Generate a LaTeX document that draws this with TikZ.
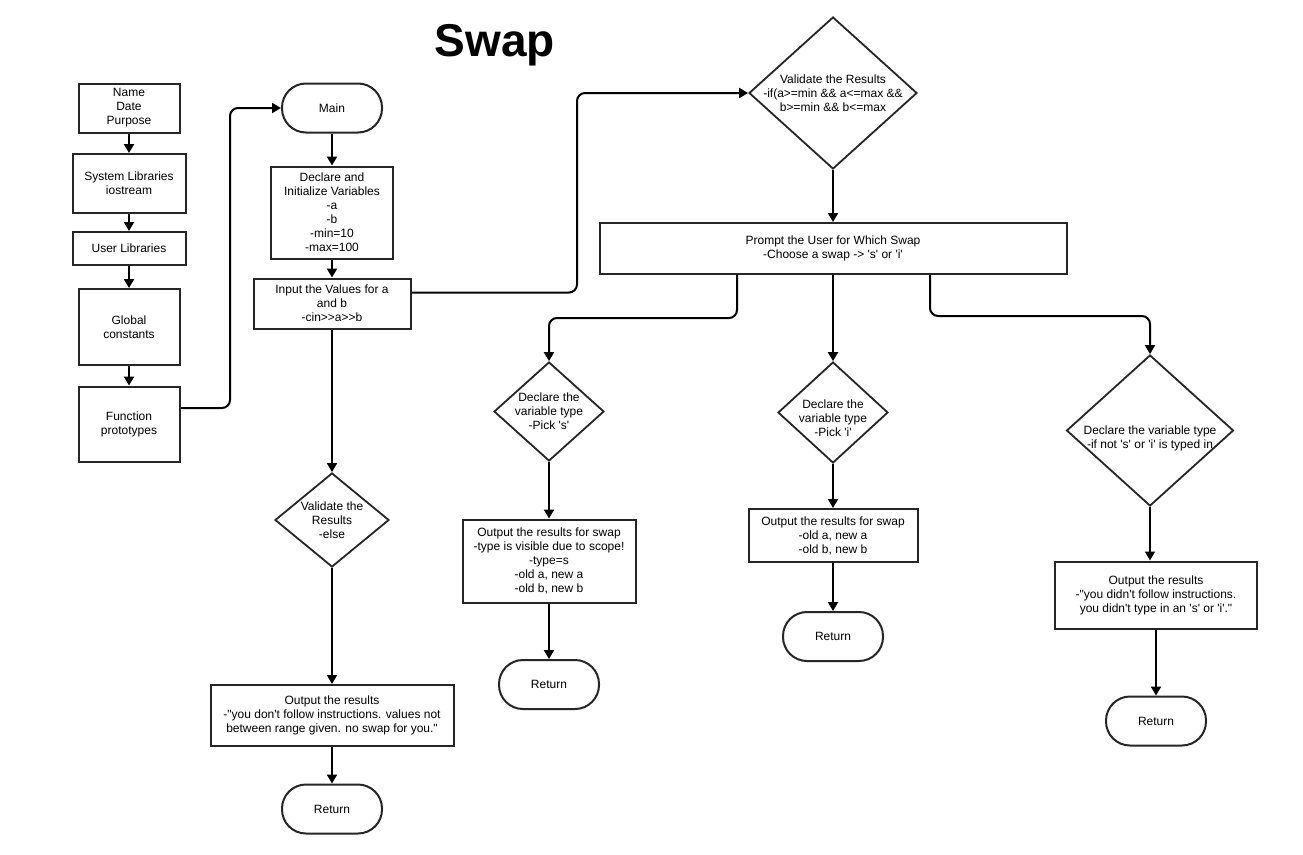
\documentclass[tikz,border=0pt]{standalone}
\usepackage{fontspec}
\setmainfont{Liberation Sans}[Ligatures=TeXOff]
\usetikzlibrary{shapes.geometric,arrows.meta}
\begin{document}
\begin{tikzpicture}[x=1pt,y=-1pt,font=\fontsize{12}{14}\selectfont,
  box/.style={draw=black!85,line width=2pt,rectangle,inner sep=0pt,align=center},
  term/.style={box,rounded corners=24pt,minimum width=100pt,minimum height=49pt},
  dia/.style={draw=black!85,line width=1.8pt,diamond,inner sep=0pt},
  txt/.style={align=center,inner sep=0pt},
  conn/.style={line width=2pt,-{Triangle[length=9pt,width=10pt]},rounded corners=8pt}]
\useasboundingbox (0,0) rectangle (1303,854);
\fill[white] (0,0) rectangle (1303,854);

\node[txt,font=\fontsize{46}{50}\selectfont\bfseries] (title) at (495,45) {Swap};

% left column
\node[box,minimum width=101pt,minimum height=49pt] (name) at (129,108) {Name\\Date\\Purpose};
\node[box,minimum width=113pt,minimum height=59pt] (sys) at (129,183.5) {System Libraries\\iostream};
\node[box,minimum width=113pt,minimum height=33pt] (user) at (129,248.5) {User Libraries};
\node[box,minimum width=101pt,minimum height=76pt] (glob) at (129,327) {Global\\constants};
\node[box,minimum width=101pt,minimum height=75pt] (func) at (129,424) {Function\\prototypes};

% main column
\node[term] (main) at (332,108) {Main};
\node[box,minimum width=122pt,minimum height=92pt] (decl) at (332,212.5) {Declare and\\Initialize Variables\\-a\\-b\\-min=10\\-max=100};
\node[box,minimum width=157pt,minimum height=50pt] (inp) at (332,303.5) {Input the Values for a\\and b\\-cin>>a>>b};
\node[dia,minimum width=114pt,minimum height=94pt,label={[txt]center:{Validate the\\Results\\-else}}] (velse) at (332,520) {};
\node[box,minimum width=243pt,minimum height=61pt] (oelse) at (332,715.5) {Output the results\\-"you don't follow instructions. values not\\between range given. no swap for you."};
\node[term] (relse) at (332,809) {Return};

% right part
\node[dia,minimum width=168pt,minimum height=152pt,label={[txt]center:{Validate the Results\\-if(a>=min \&\& a<=max \&\&\\b>=min \&\& b<=max}}] (top) at (833,93) {};
\node[box,minimum width=467pt,minimum height=51pt] (prompt) at (833,248.5) {Prompt the User for Which Swap\\-Choose a swap -> 's' or 'i'};

\node[dia,minimum width=110pt,minimum height=99pt,label={[txt]center:{Declare the\\variable type\\-Pick 's'}}] (ds) at (549,411.5) {};
\node[dia,minimum width=110pt,minimum height=101pt,label={[txt,yshift=-6pt]center:{Declare the\\variable type\\-Pick 'i'}}] (di) at (833,412.5) {};
\node[dia,minimum width=167pt,minimum height=151pt,label={[txt,yshift=-8pt]center:{Declare the variable type\\-if not 's' or 'i' is typed in}}] (dr) at (1150,430.5) {};

\node[box,minimum width=173pt,minimum height=83pt] (os) at (549,561) {Output the results for swap\\-type is visible due to scope!\\-type=s\\-old a, new a\\-old b, new b};
\node[term] (rs) at (549,684.5) {Return};
\node[box,minimum width=169pt,minimum height=53pt] (oi) at (833,535.5) {Output the results for swap\\-old a, new a\\-old b, new b};
\node[term] (ri) at (833,636.5) {Return};
\node[box,minimum width=202pt,minimum height=67pt] (orr) at (1156,595) {Output the results\\-"you didn't follow instructions.\\you didn't type in an 's' or 'i'."};
\node[term] (rr) at (1156,721) {Return};

\coordinate (cl) at (549,318);
\coordinate (cr) at (1150,316);

% connectors
\draw[conn] (name.south) -- (name.south |- sys.north);
\draw[conn] (sys.south) -- (sys.south |- user.north);
\draw[conn] (user.south) -- (user.south |- glob.north);
\draw[conn] (glob.south) -- (func.north);
\draw[conn] ([yshift=16pt]func.east) -- (230,408) -- (230,108) -- (main.west);
\draw[conn] (main.south) -- (decl.north);
\draw[conn] (decl.south) -- (inp.north);
\draw[conn] (inp.south) -- (velse.north);
\draw[conn] (velse.south) -- (oelse.north);
\draw[conn] (oelse.south) -- (relse.north);
\draw[conn] ([yshift=11pt]inp.east) -- (577,292.5) -- (577,93) -- (top.west);
\draw[conn] (top.south) -- (prompt.north);
\draw[conn] ([xshift=-96pt]prompt.south) |- (cl) -- (ds.north);
\draw[conn] (prompt.south) -- (di.north);
\draw[conn] ([xshift=97pt]prompt.south) |- (cr) -- (dr.north);
\draw[conn] (ds.south) -- (os.north);
\draw[conn] (os.south) -- (rs.north);
\draw[conn] (di.south) -- (oi.north);
\draw[conn] (oi.south) -- (ri.north);
\draw[conn] (dr.south) -- (dr.south |- orr.north);
\draw[conn] (orr.south) -- (rr.north);
\end{tikzpicture}
\end{document}
